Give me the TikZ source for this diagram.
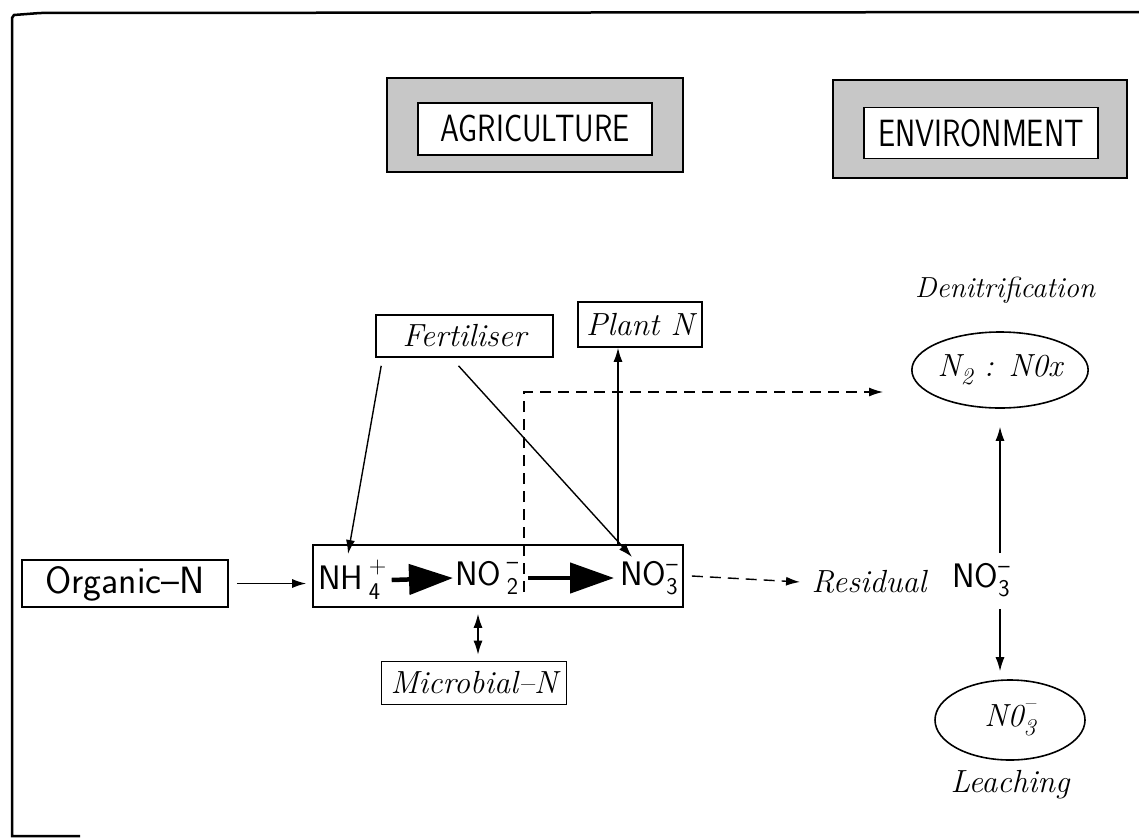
\documentclass[tikz,border=0pt]{standalone}
\usetikzlibrary{arrows.meta,shapes.geometric}
\newcommand{\cnd}[1]{\scalebox{0.8}[1]{#1}}
\newcommand{\supsub}[3]{\makebox[0pt][l]{\raisebox{#3}{\fontsize{24}{24}\selectfont #1}}\raisebox{-9pt}{\fontsize{24}{24}\selectfont #2}}
\newcommand{\subsup}[3]{\makebox[0pt][l]{\raisebox{-10pt}{\fontsize{24}{24}\selectfont #2}}\raisebox{#3}{\fontsize{24}{24}\selectfont #1}}
\begin{document}
\begin{tikzpicture}[x=1pt,y=-1pt,
  box/.style={draw,line width=1.6pt,inner sep=0pt},
  banner/.style={draw,line width=1.8pt,fill=black!22,inner sep=0pt},
  ital/.style={font=\fontsize{32}{36}\selectfont\itshape},
  smallital/.style={font=\fontsize{29}{33}\selectfont\itshape},
  sans/.style={font=\fontsize{34}{38}\selectfont\sffamily},
  bigsans/.style={font=\fontsize{38}{42}\selectfont\sffamily},
  arr/.style={-{Latex[length=14pt,width=9pt]},line width=1.4pt},
  darr/.style={{Latex[length=14pt,width=9pt]}-{Latex[length=14pt,width=9pt]},line width=1.4pt},
  dasharr/.style={-{Latex[length=14pt,width=9pt]},line width=1.4pt,dash pattern=on 11pt off 7pt},
  thickarr/.style={-{Triangle[length=44pt,width=30pt]},line width=4.5pt},
  ell/.style={ellipse,draw,line width=1.6pt,inner sep=0pt}
]
\useasboundingbox (0,0) rectangle (1139,838);
% frame
\draw[line width=2.5pt] (1139,12) -- (40,13) -- (14,15) -- (12,18) -- (12,836) -- (80,836);
% banners
\node[banner,minimum width=296pt,minimum height=94pt] (agrout) at (535,125) {};
\node[box,fill=white,minimum width=234pt,minimum height=52pt,bigsans] (agr) at (535,129) {\cnd{AGRICULTURE}};
\node[banner,minimum width=294pt,minimum height=98pt] (envout) at (980,129) {};
\node[box,fill=white,minimum width=234pt,minimum height=51pt,bigsans] (env) at (981,133) {\cnd{ENVIRONMENT}};
% boxes
\node[box,minimum width=177pt,minimum height=42pt,ital] (fert) at (464.5,336) {Fertiliser};
\node[box,minimum width=124pt,minimum height=45pt,ital] (plant) at (640,324.5) {Plant N};
\node[box,minimum width=206pt,minimum height=47pt,bigsans] (org) at (125,583.5) {Organic--N};
\node[box,minimum width=370pt,minimum height=62pt] (main) at (498,576) {};
\node[box,minimum width=185pt,minimum height=43pt,ital] (micro) at (474,683) {Microbial--N};
% species inside main box
\node[sans,inner sep=0pt,anchor=west] (nh4) at (318,580) {NH\,\subsup{+}{4}{16pt}};
\node[sans,inner sep=0pt,anchor=west] (no2) at (455,578) {NO\,\supsub{--}{2}{16pt}};
\node[sans,inner sep=0pt,anchor=west] (no3) at (620,578) {NO\supsub{--}{3}{14pt}\hspace{14pt}};
% environment side
\node[smallital] (den) at (1005,290) {Denitrification};
\node[ell,minimum width=150pt,minimum height=76pt,ital] (n2) at (1000,370) {N\raisebox{-8pt}{\fontsize{24}{24}\selectfont 2} : N0x};
\node[ital] (res) at (869,582) {Residual};
\node[sans,inner sep=0pt,anchor=west] (rno3) at (952,580) {NO\supsub{--}{3}{14pt}\hspace{14pt}};
\node[ell,minimum width=150pt,minimum height=80pt,ital] (leach) at (1010,720) {N0\supsub{--}{3}{16pt}\hspace{14pt}};
\node[ital] (leachlbl) at (1010,785) {Leaching};
% connectors
\draw[arr] ([xshift=8pt]org.east) -- ([xshift=-6pt]main.west |- org.east);
\draw[thickarr] ([xshift=5pt]nh4.east) -- ([xshift=-2pt]no2.west);
\draw[thickarr] ([xshift=10pt]no2.east) -- ([xshift=-6pt]no3.west);
\draw[arr] ([xshift=6pt,yshift=-8pt]fert.south west) -- ([xshift=30pt,yshift=6pt]nh4.north west);
\draw[arr] ([xshift=-6pt,yshift=-8pt]fert.south) -- ([xshift=12pt,yshift=4pt]no3.north west);
\draw[arr] ([xshift=-22pt]plant.south |- main.north) -- ([xshift=-22pt]plant.south);
\coordinate (dstart) at (524,592);
\draw[dasharr] (dstart) |- ([xshift=-28pt,yshift=-22pt]n2.west);
\draw[dasharr] ([xshift=8pt]main.east) -- ([xshift=-8pt]res.west);
\draw[arr] ([yshift=10pt]n2.south |- rno3.north) -- ([yshift=-18pt]n2.south);
\draw[arr] ([yshift=-12pt]n2.south |- rno3.south) -- ([yshift=8pt]n2.south |- leach.north);
\draw[darr] ([xshift=4pt,yshift=-6pt]micro.north |- main.south) -- ([xshift=4pt,yshift=6pt]micro.north);
\end{tikzpicture}
\end{document}
